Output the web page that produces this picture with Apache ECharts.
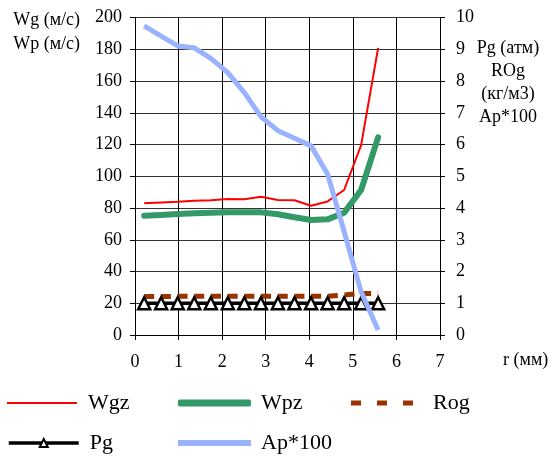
<!DOCTYPE html>
<html>
<head>
<meta charset="utf-8">
<script src="https://cdn.jsdelivr.net/npm/echarts@6/dist/echarts.min.js"></script>
<style>
html,body{margin:0;padding:0;background:#fff;}
#chart{width:557px;height:459px;}
</style>
</head>
<body>
<div id="chart"></div>
<script>
// r (мм) positions
const rValues = [0.21, 0.60, 0.98, 1.36, 1.74, 2.13, 2.51, 2.89, 3.28, 3.66, 4.04, 4.42, 4.80, 5.19, 5.58];
// left axis series (м/с)
const wgz = [83.0, 83.5, 84.0, 84.6, 85.0, 85.7, 85.5, 87.1, 85.1, 84.9, 81.5, 84.2, 91.4, 119.7, 181.0];
const wpz = [75.2, 75.6, 76.2, 76.7, 77.1, 77.3, 77.3, 77.3, 76.1, 74.2, 72.5, 72.9, 77.1, 91.4, 124.6];
// right axis series
const rog = [1.21, 1.21, 1.22, 1.22, 1.22, 1.22, 1.22, 1.22, 1.22, 1.22, 1.22, 1.22, 1.26, 1.31, 1.31];
const pg  = [1.0, 1.0, 1.0, 1.0, 1.0, 1.0, 1.0, 1.0, 1.0, 1.0, 1.0, 1.0, 1.0, 1.0, 1.0];
const ap  = [9.74, 9.42, 9.11, 9.05, 8.72, 8.27, 7.64, 6.88, 6.44, 6.20, 5.96, 5.07, 3.26, 1.36, 0.16];

const leftName = ['Wg (м/с)', 'Wp (м/с)'];
const rightName = ['Pg (атм)', 'ROg', '(кг/м3)', 'Ap*100'];
const xName = 'r (мм)';

const pairs = (ys) => rValues.map((x, i) => [x, ys[i]]);
const FONT = '"Liberation Serif", "Times New Roman", serif';

const chart = echarts.init(document.getElementById('chart'), null, {renderer: 'canvas'});

function legendAt(item, left, top, w, h, gap, extra) {
  return Object.assign({
    data: [item], left: left, top: top, orient: 'horizontal',
    itemWidth: w, itemHeight: h, padding: 0,
    textStyle: {fontFamily: FONT, fontSize: 22, color: '#000', padding: [0, 0, 0, gap], lineHeight: 24},
    selectedMode: false
  }, extra || {});
}

const option = {
  animation: false,
  backgroundColor: '#fff',
  grid: {left: 135, right: 117, top: 17.7, bottom: 124, containLabel: false},
  xAxis: {
    type: 'value', min: 0, max: 7, interval: 1,
    axisLine: {show: true, onZero: false, lineStyle: {color: '#000', width: 1}},
    axisTick: {show: true, length: 5, lineStyle: {color: '#000'}},
    axisLabel: {fontFamily: FONT, fontSize: 18, color: '#000', margin: 18},
    splitLine: {show: true, lineStyle: {color: '#000', width: 1}}
  },
  yAxis: [
    {
      type: 'value', min: 0, max: 200, interval: 20, position: 'left',
      axisLine: {show: true, lineStyle: {color: '#000', width: 1}},
      axisTick: {show: true, length: 5, lineStyle: {color: '#000'}},
      axisLabel: {fontFamily: FONT, fontSize: 18, color: '#000', margin: 13},
      splitLine: {show: true, lineStyle: {color: '#333', width: 1}}
    },
    {
      type: 'value', min: 0, max: 10, interval: 1, position: 'right',
      axisLine: {show: true, lineStyle: {color: '#000', width: 1}},
      axisTick: {show: true, length: 5, lineStyle: {color: '#000'}},
      axisLabel: {fontFamily: FONT, fontSize: 18, color: '#000', margin: 16},
      splitLine: {show: false}
    }
  ],
  legend: [
    legendAt({name: 'Wgz', icon: 'rect'}, 7, 391, 70, 2, 6),
    legendAt({name: 'Wpz', icon: 'roundRect'}, 178, 391, 73, 7, 5),
    legendAt({name: 'Rog', icon: 'path://M0,0h10v5h-10z M26,0h10v5h-10z M52,0h10v5h-10z'}, 351, 391, 62, 5, 15),
    legendAt({name: 'Pg'}, 7, 431, 70, 10, 6, {lineStyle: {width: 3.5, color: '#000'}}),
    legendAt({name: 'Ap*100', icon: 'rect'}, 178, 431, 73, 6, 5)
  ],
  graphic: [
    {type: 'text', right: 557 - 80, top: 11, style: {text: leftName[0], font: '18px ' + FONT, fill: '#000', textAlign: 'right'}},
    {type: 'text', right: 557 - 80, top: 35, style: {text: leftName[1], font: '18px ' + FONT, fill: '#000', textAlign: 'right'}},
    {type: 'text', left: 475, top: 37, style: {text: rightName.join('\n'), font: '18px ' + FONT, fill: '#000', textAlign: 'center', lineHeight: 23, width: 66}},
    {type: 'text', left: 503, top: 351, style: {text: xName, font: '18px ' + FONT, fill: '#000'}}
  ],
  series: [
    {
      name: 'Wgz', type: 'line', yAxisIndex: 0, data: pairs(wgz),
      symbol: 'none', showSymbol: false,
      lineStyle: {color: '#ff0000', width: 2}, itemStyle: {color: '#ff0000'}, z: 3
    },
    {
      name: 'Wpz', type: 'line', yAxisIndex: 0, data: pairs(wpz),
      symbol: 'none', showSymbol: false,
      lineStyle: {color: '#339966', width: 6, cap: 'round', join: 'round'}, itemStyle: {color: '#339966'}, z: 2
    },
    {
      name: 'Rog', type: 'line', yAxisIndex: 1, data: pairs(rog),
      symbol: 'none', showSymbol: false,
      lineStyle: {color: '#993300', width: 5, type: [10, 6.7]}, itemStyle: {color: '#993300'}, z: 2
    },
    {
      name: 'Pg', type: 'line', yAxisIndex: 1, data: pairs(pg),
      symbol: 'triangle', symbolSize: [12, 12], showSymbol: true,
      lineStyle: {color: '#000', width: 3.5},
      itemStyle: {color: '#fff', borderColor: '#000', borderWidth: 2.5}, z: 3
    },
    {
      name: 'Ap*100', type: 'line', yAxisIndex: 1, data: pairs(ap),
      symbol: 'none', showSymbol: false,
      lineStyle: {color: '#99b3ff', width: 5}, itemStyle: {color: '#99b3ff'}, z: 4
    }
  ]
};
chart.setOption(option);
</script>
</body>
</html>
